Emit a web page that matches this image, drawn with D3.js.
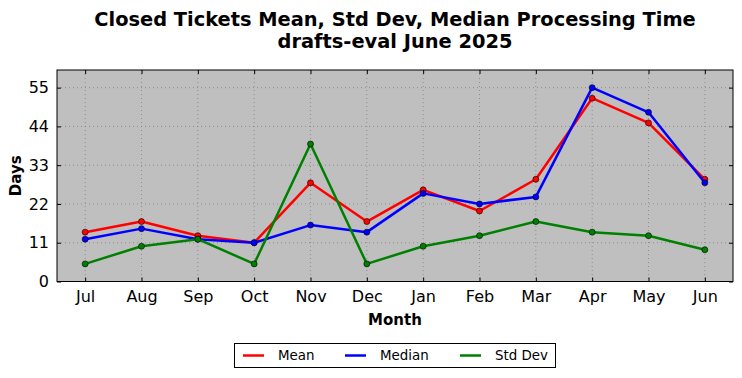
<!DOCTYPE html>
<html><head><meta charset="utf-8">
<script src="https://cdn.jsdelivr.net/npm/d3@7"></script>
<style>body{margin:0;background:#fff;} svg{display:block;font-family:"DejaVu Sans",sans-serif;}</style>
</head><body>
<svg id="c" width="742" height="378"></svg>
<script>
const months = ["Jul","Aug","Sep","Oct","Nov","Dec","Jan","Feb","Mar","Apr","May","Jun"];
const meanVals = [14,17,13,11,28,17,26,20,29,52,45,29];
const medianVals = [12,15,12,11,16,14,25,22,24,55,48,28];
const stdVals = [5,10,12,5,39,5,10,13,17,14,13,9];
const yTicks = [0,11,22,33,44,55];
const seriesNames = ["Mean","Median","Std Dev"];
const seriesColors = ["#ff0000","#0000ff","#008000"];

const svg = d3.select("#c");
const m = {l:57, r:733, t:70, b:281.5};
const x = d3.scalePoint().domain(months).range([m.l, m.r]).padding(0.5);
const y = d3.scaleLinear().domain([0,60]).range([m.b, m.t]);

svg.append("rect").attr("x",m.l).attr("y",m.t).attr("width",m.r-m.l).attr("height",m.b-m.t).attr("fill","#bfbfbf");

// grid
const g = svg.append("g");
months.forEach(mo=>{
  g.append("line").attr("x1",x(mo)).attr("x2",x(mo)).attr("y1",m.t).attr("y2",m.b)
   .attr("stroke","#808080").attr("stroke-width",0.8).attr("stroke-dasharray","1,3");
});
yTicks.forEach(v=>{
  g.append("line").attr("x1",m.l).attr("x2",m.r).attr("y1",y(v)).attr("y2",y(v))
   .attr("stroke","#808080").attr("stroke-width",0.8).attr("stroke-dasharray","1,3");
});

// axes
const xa = svg.append("g").attr("transform",`translate(0,${m.b})`).call(d3.axisBottom(x).tickSizeInner(-4).tickSizeOuter(0).tickPadding(9));
const xt = svg.append("g").attr("transform",`translate(0,${m.t})`).call(d3.axisTop(x).tickSizeInner(-4).tickSizeOuter(0).tickFormat(""));
const ya = svg.append("g").attr("transform",`translate(${m.l},0)`).call(d3.axisLeft(y).tickValues(yTicks).tickSizeInner(-4).tickSizeOuter(0).tickPadding(8));
const yr = svg.append("g").attr("transform",`translate(${m.r},0)`).call(d3.axisRight(y).tickValues(yTicks).tickSizeInner(-4).tickSizeOuter(0).tickFormat(""));
[xa,xt,ya,yr].forEach(a=>{a.select(".domain").remove(); a.selectAll("line").attr("stroke","#000");});
xa.selectAll("text").attr("font-size",16).attr("fill","#000").attr("font-family","DejaVu Sans");
ya.selectAll("text").attr("font-size",16).attr("fill","#000").attr("font-family","DejaVu Sans");

// series
const allSeries = [meanVals, medianVals, stdVals];
const line = d3.line().x((d,i)=>x(months[i])).y(d=>y(d));
allSeries.forEach((vals,k)=>{
  svg.append("path").datum(vals).attr("d",line).attr("fill","none")
    .attr("stroke",seriesColors[k]).attr("stroke-width",2.5).attr("stroke-linejoin","round");
  svg.append("g").selectAll("circle").data(vals).join("circle")
    .attr("cx",(d,i)=>x(months[i])).attr("cy",d=>y(d)).attr("r",3)
    .attr("fill",seriesColors[k]).attr("stroke","#000").attr("stroke-width",0.6);
});

// frame
svg.append("rect").attr("x",m.l).attr("y",m.t).attr("width",m.r-m.l).attr("height",m.b-m.t)
  .attr("fill","none").attr("stroke","#000").attr("stroke-width",1);

// titles
svg.append("text").attr("x",395).attr("y",25.5).attr("text-anchor","middle").attr("font-size",19.4).attr("font-weight","bold").text("Closed Tickets Mean, Std Dev, Median Processing Time");
svg.append("text").attr("x",395).attr("y",47.5).attr("text-anchor","middle").attr("font-size",19.4).attr("font-weight","bold").text("drafts-eval June 2025");
svg.append("text").attr("x",395).attr("y",325).attr("text-anchor","middle").attr("font-size",15).attr("font-weight","bold").text("Month");
svg.append("text").attr("transform",`translate(21,${(m.t+m.b)/2}) rotate(-90)`).attr("text-anchor","middle").attr("font-size",15).attr("font-weight","bold").text("Days");

// legend
const lg = svg.append("g");
lg.append("rect").attr("x",234.5).attr("y",343.5).attr("width",321).attr("height",24).attr("fill","#fff").attr("stroke","#000").attr("stroke-width",1);
const legX = [243,345,460];
seriesNames.forEach((n,k)=>{
  lg.append("line").attr("x1",legX[k]).attr("x2",legX[k]+21).attr("y1",355.5).attr("y2",355.5).attr("stroke",seriesColors[k]).attr("stroke-width",2.5);
  lg.append("text").attr("x",legX[k]+35).attr("y",360).attr("font-size",13.4).text(n);
});
</script>
</body></html>
